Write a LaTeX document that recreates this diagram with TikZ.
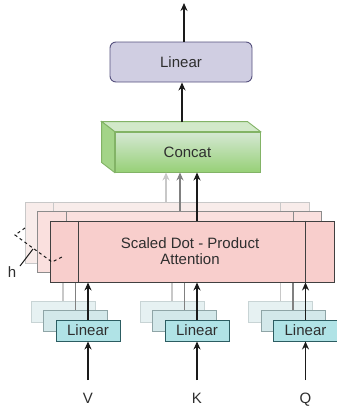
\documentclass[tikz,border=0pt]{standalone}
\usepackage{fontspec}
\setmainfont{Liberation Sans}
\usetikzlibrary{arrows.meta}
\definecolor{txt}{HTML}{2E2E2E}
\definecolor{attF}{HTML}{F8CECC}\definecolor{attFd}{HTML}{404040}
\definecolor{attM}{HTML}{FAE0DE}\definecolor{attMd}{HTML}{8C8C8C}
\definecolor{attB}{HTML}{F8ECEA}\definecolor{attBd}{HTML}{C8C8C8}
\definecolor{linF}{HTML}{B0E3E6}\definecolor{linFd}{HTML}{2C5D62}
\definecolor{linM}{HTML}{D3E8EA}\definecolor{linMd}{HTML}{8FA5A7}
\definecolor{linB}{HTML}{E6F1F2}\definecolor{linBd}{HTML}{C8D4D5}
\definecolor{topF}{HTML}{D0CEE2}\definecolor{topD}{HTML}{56517E}
\definecolor{gTop}{HTML}{D5E8D4}\definecolor{gBot}{HTML}{97D077}
\definecolor{gSide}{HTML}{A3D488}\definecolor{gLid}{HTML}{D2E9C9}\definecolor{gD}{HTML}{82B366}
\definecolor{arK}{HTML}{1A1A1A}\definecolor{arG}{HTML}{808080}\definecolor{arL}{HTML}{C8C8C8}
\begin{document}
\begin{tikzpicture}[x=1pt,y=-1pt,
  lbl/.style={font=\fontsize{15}{17}\selectfont, text=txt},
  inlbl/.style={lbl, anchor=base},
  attn/.style={draw, line width=0.9pt, minimum width=284pt, minimum height=61pt, inner sep=0pt},
  lin/.style={draw, line width=0.9pt, minimum width=64pt, minimum height=21pt, inner sep=0pt, lbl},
  arr/.style={-{Stealth[length=8pt,width=7pt]}, line width=1.3pt},
  arrK/.style={arr, draw=arK},
  arrG/.style={arr, draw=arG},
  arrL/.style={arr, draw=arL}]
\useasboundingbox (0,0) rectangle (337,410);

% ---------- top Linear and output ----------
\node[draw=topD, fill=topF, line width=0.9pt, rounded corners=6pt, minimum width=142pt, minimum height=40pt, lbl] (lintop) at (181,62) {Linear};
\coordinate (out) at (184,3);
\draw[arrK] (lintop.north -| 184,0) -- (out);

% ---------- Concat cube ----------
\node[draw=gD, line width=0.9pt, top color=gTop, bottom color=gBot, minimum width=145pt, minimum height=40pt, lbl] (concat) at (187.5,152) {Concat};
\draw[draw=gD, fill=gLid, line width=0.9pt] (concat.north west) -- ++(-13,-10) -- ([xshift=-13pt,yshift=10pt]concat.north east) -- (concat.north east) -- cycle;
\draw[draw=gD, fill=gSide, line width=0.9pt] (concat.north west) -- ++(-13,-10) -- ([xshift=-13pt,yshift=10pt]concat.south west) -- (concat.south west) -- cycle;
\coordinate (ctop) at (182,122);
\draw[arrK] (ctop) -- (lintop.south -| 182,0);

% ---------- back layer ----------
\node[lin, draw=linBd, fill=linB] (vB) at (63,311.5) {};
\node[lin, draw=linBd, fill=linB] (kB) at (172,311.5) {};
\node[lin, draw=linBd, fill=linB] (qB) at (280.5,311.5) {};
\node[attn, draw=attBd, fill=attB] (attB) at (167,232.5) {};
\draw[attBd, line width=0.9pt] ([xshift=29pt]attB.north west) -- ([xshift=29pt]attB.south west);
\draw[attBd, line width=0.9pt] ([xshift=-29pt]attB.north east) -- ([xshift=-29pt]attB.south east);
\draw[line width=1.3pt, arL] (vB.north) -- (attB.south -| vB.north);
\draw[line width=1.3pt, arL] (kB.north) -- (attB.south -| kB.north);
\draw[line width=1.3pt, arL] (qB.north) -- (attB.south -| qB.north);
\draw[arrL] (attB.north -| 166,0) -- (concat.south -| 166,0);

% ---------- middle layer ----------
\node[lin, draw=linMd, fill=linM] (vM) at (75.5,321) {};
\node[lin, draw=linMd, fill=linM] (kM) at (184.5,321) {};
\node[lin, draw=linMd, fill=linM] (qM) at (293,321) {};
\draw[line width=1.3pt, arG] (vM.north) -- (vM.north |- 0,262);
\draw[line width=1.3pt, arG] (kM.north) -- (kM.north |- 0,262);
\draw[line width=1.3pt, arG] (qM.north) -- (qM.north |- 0,262);
\node[attn, draw=attMd, fill=attM] (attM) at (179.5,242) {};
\draw[attMd, line width=0.9pt] ([xshift=29pt]attM.north west) -- ([xshift=29pt]attM.south west);
\draw[attMd, line width=0.9pt] ([xshift=-29pt]attM.north east) -- ([xshift=-29pt]attM.south east);
\draw[arrG] (attM.north -| 180,0) -- (concat.south -| 180,0);

% ---------- front layer ----------
\node[lin, draw=linFd, fill=linF] (vF) at (88,330.5) {Linear};
\node[lin, draw=linFd, fill=linF] (kF) at (197,330.5) {Linear};
\node[lin, draw=linFd, fill=linF] (qF) at (305.5,330.5) {Linear};
\node[attn, draw=attFd, fill=attF] (attF) at (192,251.5) {};
\draw[attFd, line width=0.9pt] ([xshift=29pt]attF.north west) -- ([xshift=29pt]attF.south west);
\draw[attFd, line width=0.9pt] ([xshift=-29pt]attF.north east) -- ([xshift=-29pt]attF.south east);
\node[lbl, align=center, font=\fontsize{15}{15.5}\selectfont] (attT) at (190,251) {Scaled Dot - Product\\Attention};
\draw[arrK] (vF.north) -- (attF.south -| vF.north);
\draw[arrK] (kF.north) -- (attF.south -| kF.north);
\draw[arrK] (qF.north) -- (attF.south -| qF.north);
\draw[arrK] (attF.north -| 197,0) -- (concat.south -| 197,0);

% ---------- inputs ----------
\node[inlbl] (V) at (88,403) {V};
\node[inlbl] (K) at (197,403) {K};
\node[inlbl] (Q) at (305.5,403) {Q};
\coordinate (vin) at (88,380);
\coordinate (kin) at (197,380);
\coordinate (qin) at (305.5,380);
\draw[arrK] (vin) -- (vF.south);
\draw[arrK] (kin) -- (kF.south);
\draw[arrK] (qin) -- (qF.south);

% ---------- h bracket ----------
\draw[dashed, line width=1pt, arK] (25,228) -- (15,235) -- (52,262) -- (62,257);
\node[lbl] (h) at (12,272) {h};
\coordinate (hmid) at (33,249);
\draw[line width=1pt, arK] (20,266) -- (hmid);
\end{tikzpicture}
\end{document}
